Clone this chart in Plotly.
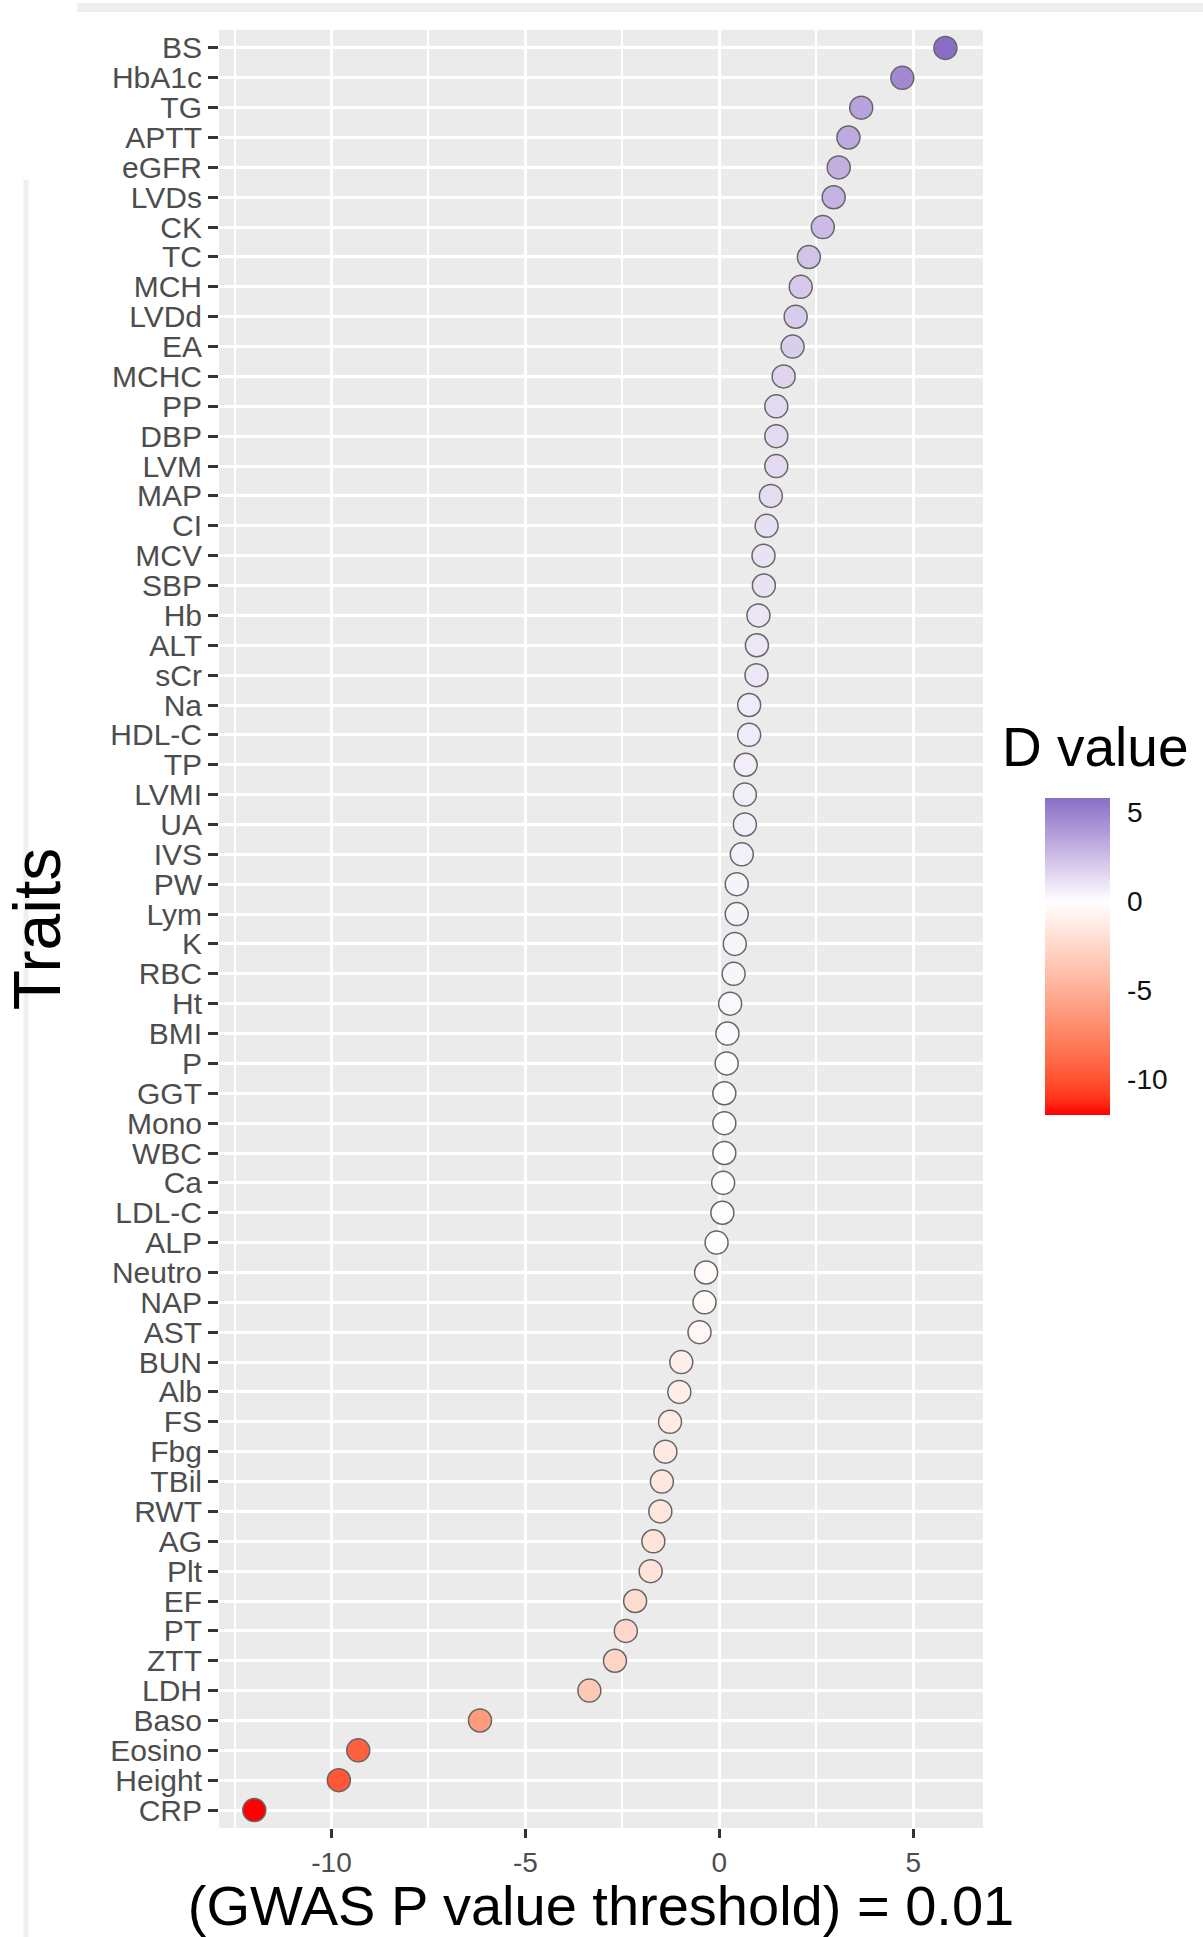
import plotly.graph_objects as go

# ---------------- data ----------------
traits = ["BS", "HbA1c", "TG", "APTT", "eGFR", "LVDs", "CK", "TC", "MCH", "LVDd",
          "EA", "MCHC", "PP", "DBP", "LVM", "MAP", "CI", "MCV", "SBP", "Hb",
          "ALT", "sCr", "Na", "HDL-C", "TP", "LVMI", "UA", "IVS", "PW", "Lym",
          "K", "RBC", "Ht", "BMI", "P", "GGT", "Mono", "WBC", "Ca", "LDL-C",
          "ALP", "Neutro", "NAP", "AST", "BUN", "Alb", "FS", "Fbg", "TBil", "RWT",
          "AG", "Plt", "EF", "PT", "ZTT", "LDH", "Baso", "Eosino", "Height", "CRP"]
d_values = [5.83, 4.72, 3.66, 3.33, 3.08, 2.95, 2.67, 2.31, 2.10, 1.97,
            1.89, 1.66, 1.47, 1.47, 1.47, 1.33, 1.22, 1.14, 1.15, 1.01,
            0.97, 0.96, 0.77, 0.77, 0.68, 0.66, 0.66, 0.58, 0.45, 0.45,
            0.40, 0.37, 0.28, 0.21, 0.19, 0.13, 0.13, 0.13, 0.10, 0.08,
            -0.07, -0.34, -0.38, -0.51, -0.98, -1.03, -1.27, -1.39, -1.48, -1.52,
            -1.70, -1.77, -2.17, -2.41, -2.69, -3.35, -6.17, -9.31, -9.81, -11.99]
x_ticks = [-10, -5, 0, 5]
cbar_ticks = [-10, -5, 0, 5]
x_title = "(GWAS P value threshold) = 0.01"
y_title = "Traits"
legend_title = "D value"

# ---------------- colour scale (Lab interpolation like ggplot) ----------------
def hex_to_rgb(h):
    h = h.lstrip("#")
    return [int(h[i:i + 2], 16) / 255 for i in (0, 2, 4)]

def srgb_to_lin(c):
    return c / 12.92 if c <= 0.04045 else ((c + 0.055) / 1.055) ** 2.4

def lin_to_srgb(c):
    c = max(0.0, min(1.0, c))
    return 12.92 * c if c <= 0.0031308 else 1.055 * c ** (1 / 2.4) - 0.055

WHITE = (0.95047, 1.0, 1.08883)

def rgb_to_lab(rgb):
    r, g, b = [srgb_to_lin(c) for c in rgb]
    X = 0.4124 * r + 0.3576 * g + 0.1805 * b
    Y = 0.2126 * r + 0.7152 * g + 0.0722 * b
    Z = 0.0193 * r + 0.1192 * g + 0.9505 * b
    def f(t):
        return t ** (1 / 3) if t > 0.008856 else 7.787 * t + 16 / 116
    fx, fy, fz = f(X / WHITE[0]), f(Y / WHITE[1]), f(Z / WHITE[2])
    return [116 * fy - 16, 500 * (fx - fy), 200 * (fy - fz)]

def lab_to_hex(lab):
    L, a, b = lab
    fy = (L + 16) / 116
    fx = fy + a / 500
    fz = fy - b / 200
    def finv(t):
        return t ** 3 if t ** 3 > 0.008856 else (t - 16 / 116) / 7.787
    X, Y, Z = finv(fx) * WHITE[0], finv(fy) * WHITE[1], finv(fz) * WHITE[2]
    r = 3.2406 * X - 1.5372 * Y - 0.4986 * Z
    g = -0.9689 * X + 1.8758 * Y + 0.0415 * Z
    bb = 0.0557 * X - 0.2040 * Y + 1.0570 * Z
    return "#%02x%02x%02x" % tuple(int(round(lin_to_srgb(c) * 255)) for c in (r, g, bb))

low_col, mid_col, high_col = "#FF0000", "#FFFFFF", "#8A6EC6"
cmin, cmax = min(d_values), max(d_values)
lab_low, lab_mid, lab_high = rgb_to_lab(hex_to_rgb(low_col)), rgb_to_lab(hex_to_rgb(mid_col)), rgb_to_lab(hex_to_rgb(high_col))
zero_pos = (0 - cmin) / (cmax - cmin)
colorscale = []
n = 12
for i in range(n + 1):
    t = i / n
    lab = [lab_low[k] + (lab_mid[k] - lab_low[k]) * t for k in range(3)]
    colorscale.append([zero_pos * t, lab_to_hex(lab)])
for i in range(1, n + 1):
    t = i / n
    lab = [lab_mid[k] + (lab_high[k] - lab_mid[k]) * t for k in range(3)]
    colorscale.append([zero_pos + (1 - zero_pos) * t, lab_to_hex(lab)])
colorscale[-1][0] = 1.0

# ---------------- geometry ----------------
W, H = 1203, 1937
ml, mr, mt, mb = 219, 220, 30, 109
pw, ph = W - ml - mr, H - mt - mb

def px_x(x):
    return (x - ml) / pw

def px_y(y):
    return (H - mb - y) / ph

FONT = "Liberation Sans, Arial, Helvetica, sans-serif"

fig = go.Figure()
fig.add_trace(go.Scatter(
    x=d_values, y=traits, mode="markers",
    marker=dict(size=23, color=d_values, colorscale=colorscale, cmin=cmin, cmax=cmax,
                line=dict(color="#666666", width=1.5),
                showscale=True,
                colorbar=dict(
                    x=px_x(1045), xanchor="left", xpad=0,
                    y=px_y(956), yanchor="middle", ypad=0,
                    thickness=65, thicknessmode="pixels",
                    len=317, lenmode="pixels",
                    outlinewidth=0,
                    tickmode="array", tickvals=cbar_ticks,
                    ticktext=[str(v) for v in cbar_ticks],
                    ticks="outside", ticklen=12, tickcolor="rgba(0,0,0,0)", tickwidth=1,
                    tickfont=dict(family=FONT, size=28, color="#111111"),
                    title=dict(text=""),
                )),
    hoverinfo="x+y", showlegend=False,
))

fig.update_layout(
    width=W, height=H,
    margin=dict(l=ml, r=mr, t=mt, b=mb, autoexpand=False),
    paper_bgcolor="white", plot_bgcolor="#EBEBEB",
    font=dict(family=FONT, color="#4D4D4D"),
    xaxis=dict(
        range=[-12.9, 6.8], tickmode="array", tickvals=x_ticks,
        ticktext=[str(v) for v in x_ticks],
        showgrid=True, gridcolor="white", gridwidth=3, zeroline=False,
        minor=dict(tick0=-12.5, dtick=5, showgrid=True, gridcolor="white", gridwidth=1.5, ticks=""),
        ticks="outside", ticklen=9, tickwidth=2.5, tickcolor="#333333",
        tickfont=dict(family=FONT, size=28, color="#4D4D4D"),
        showline=False, automargin=False,
        title=dict(text=x_title, font=dict(family=FONT, size=56, color="black"), standoff=19),
    ),
    yaxis=dict(
        type="category", categoryorder="array", categoryarray=traits[::-1],
        tickmode="linear", dtick=1,
        range=[-0.6, len(traits) - 0.4],
        showgrid=True, gridcolor="white", gridwidth=3, zeroline=False,
        ticks="outside", ticklen=10, tickwidth=2.5, tickcolor="#333333",
        tickfont=dict(family=FONT, size=30, color="#4D4D4D"),
        showline=False, automargin=False,
        title=dict(text=y_title, font=dict(family=FONT, size=66, color="black"), standoff=30),
    ),
    annotations=[dict(
        text=legend_title, xref="paper", yref="paper",
        x=px_x(1000), y=px_y(747), xanchor="left", yanchor="middle",
        showarrow=False, font=dict(size=55, color="black", family=FONT),
    )],
    shapes=[
        dict(type="rect", xref="paper", yref="paper", layer="below",
             x0=px_x(77), x1=px_x(1203), y0=px_y(12), y1=px_y(3),
             fillcolor="#EFEFEF", line=dict(width=0)),
        dict(type="line", xref="paper", yref="paper", layer="below",
             x0=px_x(26), x1=px_x(26), y0=px_y(180), y1=px_y(1937),
             line=dict(color="#F0F0F0", width=5)),
    ],
)

fig.write_html("out.html")
